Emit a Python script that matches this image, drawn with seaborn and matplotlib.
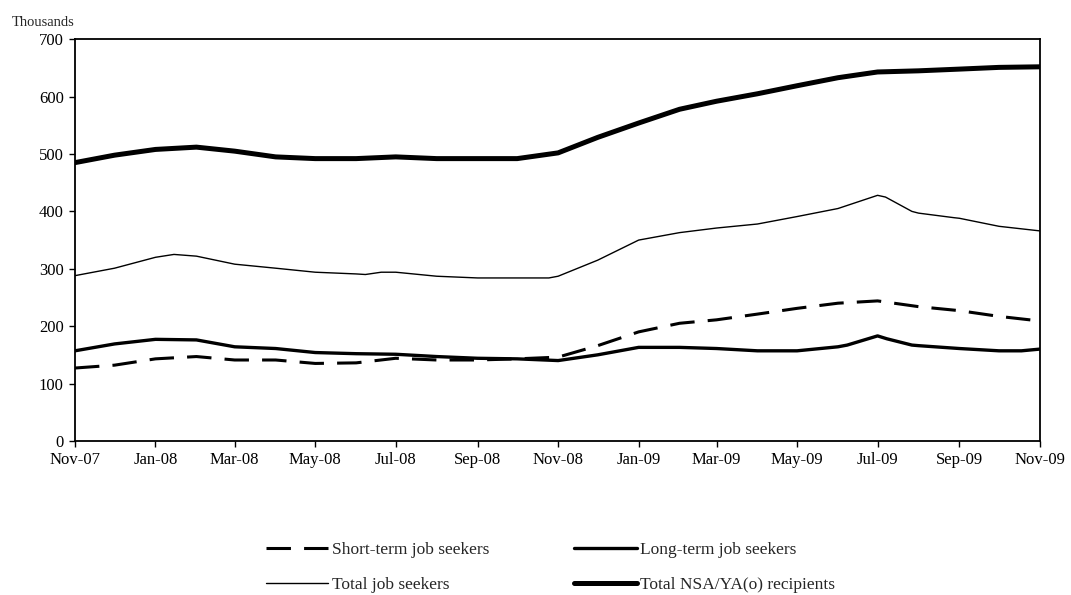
import pandas as pd
import matplotlib
matplotlib.use("Agg")
import matplotlib.pyplot as plt
import matplotlib.dates as mdates
import seaborn as sns

# monthly series, Nov-07 .. Nov-09 (thousands)
months = pd.date_range("2007-11-01", "2009-11-01", freq="MS")
short_term = [127, 132, 143, 147, 141, 141, 135, 136, 144, 141, 141, 143, 146,
              166, 190, 205, 211, 221, 231, 240, 244, 234, 227, 217, 209]
total_nsa = [485, 498, 508, 512, 505, 495, 492, 492, 495, 492, 492, 492, 502,
             529, 554, 578, 592, 605, 619, 633, 643, 645, 648, 651, 652]

# series with a few extra (mid-month) readings
long_dates = ["2007-11-01", "2007-12-01", "2008-01-01", "2008-02-01", "2008-03-01",
              "2008-04-01", "2008-05-01", "2008-06-01", "2008-07-01", "2008-08-01",
              "2008-09-01", "2008-10-01", "2008-11-01", "2008-12-01", "2009-01-01",
              "2009-02-01", "2009-03-01", "2009-04-01", "2009-05-01", "2009-06-01",
              "2009-06-08", "2009-07-01", "2009-07-08", "2009-07-27", "2009-08-01",
              "2009-09-01", "2009-10-01", "2009-10-18", "2009-11-01"]
long_term = [157, 169, 177, 176, 164, 161, 154, 152, 151, 147, 144, 143, 140, 150,
             163, 163, 161, 157, 157, 164, 167, 183, 178, 167, 166, 161, 157, 157, 160]

total_dates = ["2007-11-01", "2007-12-01", "2008-01-01", "2008-01-15", "2008-02-01",
               "2008-03-01", "2008-04-01", "2008-05-01", "2008-06-01", "2008-06-08",
               "2008-06-20", "2008-07-01", "2008-08-01", "2008-09-01", "2008-10-01",
               "2008-10-25", "2008-11-01", "2008-12-01", "2009-01-01", "2009-02-01",
               "2009-03-01", "2009-04-01", "2009-05-01", "2009-06-01", "2009-07-01",
               "2009-07-07", "2009-07-27", "2009-08-01", "2009-08-28", "2009-09-01",
               "2009-10-01", "2009-11-01"]
total_seekers = [288, 301, 320, 325, 322, 308, 301, 294, 291, 290, 294, 294, 287, 284,
                 284, 284, 287, 315, 350, 363, 371, 378, 391, 405, 428, 425, 400, 397,
                 389, 388, 374, 366]

sns.set_style("ticks")
plt.rcParams["font.family"] = ["Liberation Serif", "DejaVu Serif"]

fig, ax = plt.subplots(figsize=(10.71, 5.95), dpi=100)
fig.subplots_adjust(left=0.070, right=0.971, top=0.934, bottom=0.259)

sns.lineplot(x=months, y=short_term, ax=ax, color="black", lw=2.2,
             linestyle=(0, (8, 4.3)), label="Short-term job seekers")
sns.lineplot(x=pd.to_datetime(long_dates), y=long_term, ax=ax, color="black", lw=2.4,
             label="Long-term job seekers")
sns.lineplot(x=pd.to_datetime(total_dates), y=total_seekers, ax=ax, color="black", lw=1.0,
             label="Total job seekers")
sns.lineplot(x=months, y=total_nsa, ax=ax, color="black", lw=3.6,
             label="Total NSA/YA(o) recipients")

ax.set_xlim(months[0], months[-1])
ax.set_ylim(0, 700)
ax.set_yticks(range(0, 701, 100))
ax.xaxis.set_major_locator(mdates.MonthLocator(bymonth=(1, 3, 5, 7, 9, 11)))
ax.xaxis.set_major_formatter(mdates.DateFormatter("%b-%y"))
ax.tick_params(direction="out", length=4, width=1, labelsize=12, colors="black", pad=4)
for s in ax.spines.values():
    s.set_linewidth(1.3)
    s.set_color("black")
ax.set_xlabel("")
ax.set_ylabel("")

fig.text(12 / 1071, 1 - 23 / 595, "Thousands", fontsize=10.5, va="center")

handles, labels = ax.get_legend_handles_labels()
ax.legend_.remove()
order = [0, 2, 1, 3]
fig.legend([handles[i] for i in order], [labels[i] for i in order], ncol=2,
           loc="center", bbox_to_anchor=(0.514, 0.046), frameon=False, fontsize=12.5,
           handlelength=3.6, handletextpad=0.2, columnspacing=4.9, labelspacing=1.1)

fig.savefig("out.png", dpi=100)
